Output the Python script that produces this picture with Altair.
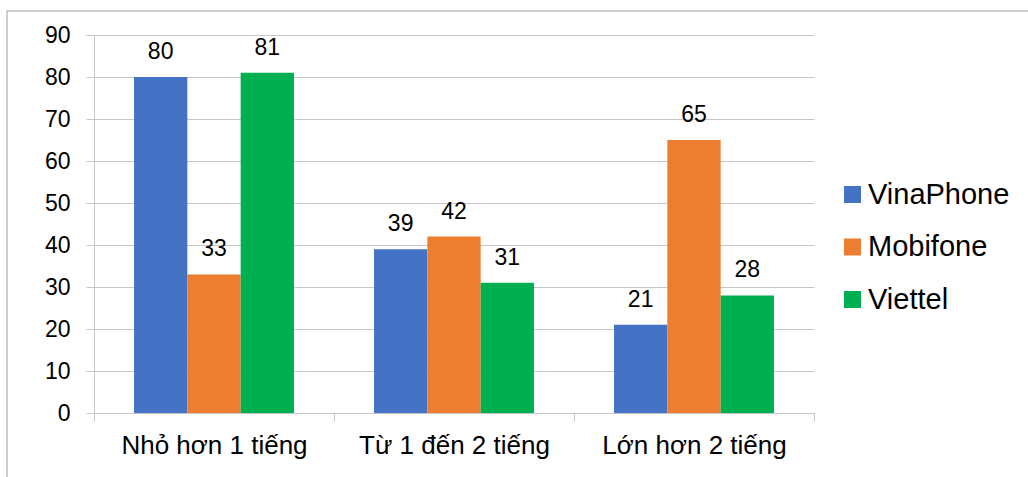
import altair as alt
import pandas as pd

categories = ["Nhỏ hơn 1 tiếng", "Từ 1 đến 2 tiếng", "Lớn hơn 2 tiếng"]
series = ["VinaPhone", "Mobifone", "Viettel"]
vinaphone = [80, 39, 21]
mobifone = [33, 42, 65]
viettel = [81, 31, 28]
colors = ["#4472C4", "#ED7D31", "#00B050"]
y_ticks = [0, 10, 20, 30, 40, 50, 60, 70, 80, 90]

rows = []
for s, vals in zip(series, [vinaphone, mobifone, viettel]):
    for c, v in zip(categories, vals):
        rows.append({"cat": c, "series": s, "value": v})
df = pd.DataFrame(rows)

FONT = "Liberation Sans"
GRAY = "#c6c6c6"

base = alt.Chart(df).encode(
    x=alt.X(
        "cat:N",
        sort=categories,
        scale=alt.Scale(paddingInner=0, paddingOuter=0),
        axis=alt.Axis(
            title=None,
            labelAngle=0,
            labelFontSize=26,
            labelFont=FONT,
            labelColor="#000000",
            labelPadding=11,
            labelLimit=0,
            tickColor=GRAY,
            tickSize=8,
            domainColor=GRAY,
            tickBand="extent",
            grid=False,
        ),
    ),
    xOffset=alt.XOffset(
        "series:N", sort=series, scale=alt.Scale(paddingInner=0, paddingOuter=0.75)
    ),
    y=alt.Y(
        "value:Q",
        scale=alt.Scale(domain=[0, 90], nice=False),
        axis=alt.Axis(
            title=None,
            values=y_ticks,
            labelFontSize=23,
            labelFont=FONT,
            labelColor="#000000",
            labelPadding=16,
            tickColor=GRAY,
            tickSize=8,
            gridColor=GRAY,
            domainColor=GRAY,
        ),
    ),
)

bars = base.mark_bar().encode(
    color=alt.Color(
        "series:N",
        sort=series,
        scale=alt.Scale(domain=series, range=colors),
        legend=alt.Legend(
            title=None,
            orient="none",
            legendX=744,
            legendY=145,
            symbolType="square",
            symbolSize=289,
            symbolStrokeWidth=0,
            labelFontSize=29,
            labelFont=FONT,
            labelColor="#000000",
            labelOffset=1,
            rowPadding=22.5,
            padding=0,
            labelLimit=0,
        ),
    )
)

labels = base.mark_text(dy=-18, baseline="alphabetic", fontSize=23, font=FONT, color="#000000").encode(
    text="value:Q"
)

border = alt.Chart(pd.DataFrame({"a": [0]})).mark_rect(fill=None, stroke="#bfbfbf", strokeWidth=1.5).encode(
    x=alt.value(-87), x2=alt.value(960), y=alt.value(-24), y2=alt.value(500)
)

chart = (
    alt.layer(border, bars, labels)
    .properties(
        width=720,
        height=378,
        autosize=alt.AutoSizeParams(type="none"),
        padding={"left": 94, "top": 35, "right": 214, "bottom": 64},
        background="#ffffff",
    )
    .configure_view(stroke=None)
)

chart.save("out.html", embed_options={"renderer": "svg", "actions": False})
